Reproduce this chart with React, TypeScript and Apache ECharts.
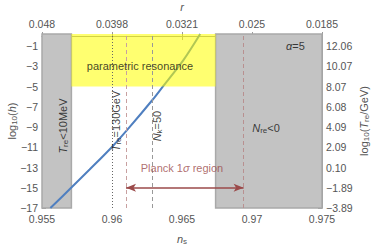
import React, { useEffect, useRef } from "react";
import * as echarts from "echarts";

// ---- data ----
const nsTickLabels = ["0.955", "0.96", "0.965", "0.97", "0.975"];
const rTickLabels = ["0.048", "0.0398", "0.0321", "0.025", "0.0185"];
const logHTicks = [-17, -15, -13, -11, -9, -7, -5, -3, -1];
const logHTickLabels = ["\u221217", "\u221215", "\u221213", "\u221211", "\u22129", "\u22127", "\u22125", "\u22123", "\u22121"];
const logTreTickLabels = ["\u22123.89", "\u22121.89", "0.10", "2.09", "4.09", "6.08", "8.07", "10.07", "12.06"];

const curveNs = [0.9556, 0.9571, 0.9584, 0.96005, 0.9611, 0.9629, 0.9636, 0.9651, 0.9663];
const curveLogH = [-17, -14.98, -13.2, -10.89, -9.26, -6.3, -5.05, -2.38, 0.2];

const nsMin = 0.955;
const nsMax = 0.975;
const logHMin = -17;
const logHMax = 0.2;

const treLowEdge = 0.9571; // T_re < 10 MeV excluded region upper edge
const nreEdge = 0.9674; // N_re < 0 region lower edge
const resonanceLogH = -5; // parametric resonance lower bound
const tre130 = 0.96; // T_re = 130 GeV
const nk50 = 0.9629; // N_k = 50
const planckLow = 0.961;
const planckHigh = 0.9694;
const planckArrowY = -15;

const axisGray = "#999999";
const textGray = "#555555";
const FONT = "Liberation Sans";

const sub = (size: number) => ({ fontSize: size, fontFamily: FONT, padding: [5, 0, 0, 0] });

export default function App() {
  const ref = useRef<HTMLDivElement>(null);
  useEffect(() => {
    if (!ref.current) return;
    const chart = echarts.init(ref.current, null, { renderer: "svg" });
    const nsIdx = (v: number) => Math.round((v - nsMin) / 0.005);
    const hIdx = (v: number) => logHTicks.findIndex((t) => Math.abs(t - v) < 1e-6);

    const richBase = (color: string, size: number) => ({
      n: { fontSize: size, fontFamily: FONT, color },
      i: { fontSize: size, fontFamily: FONT, fontStyle: "italic", color },
      s: { ...sub(size - 3), color },
    });

    const textItem = (x: number, y: number, fmt: string, opts: any = {}) => ({
      value: [x, y],
      label: {
        show: true,
        position: "inside",
        formatter: fmt,
        rotate: opts.rotate || 0,
        rich: richBase(opts.color || "#111", opts.size || 11),
      },
    });

    const vline = (x: number, color: string, type: any) => [
      { coord: [x, logHMin], lineStyle: { color, type, width: 1 } },
      { coord: [x, logHMax] },
    ];

    const option: any = {
      animation: false,
      grid: { left: 42, right: 52, top: 34, bottom: 36, outerBoundsMode: "none", containLabel: false },
      xAxis: [
        {
          type: "value",
          position: "bottom",
          min: nsMin,
          max: nsMax,
          interval: 0.005,
          axisLine: { lineStyle: { color: axisGray } },
          axisTick: { inside: true, length: 4, lineStyle: { color: axisGray } },
          splitLine: { show: false },
          axisLabel: {
            color: textGray,
            fontFamily: FONT,
            fontSize: 10.5,
            margin: 5,
            formatter: (v: number) => nsTickLabels[nsIdx(v)] ?? "",
          },
          name: "{i|n}{s|s}",
          nameLocation: "middle",
          nameGap: 24,
          nameMoveOverlap: false,
          nameTextStyle: { rich: richBase(textGray, 11) },
        },
        {
          type: "value",
          position: "top",
          min: nsMin,
          max: nsMax,
          interval: 0.005,
          axisLine: { lineStyle: { color: axisGray } },
          axisTick: { inside: true, length: 4, lineStyle: { color: axisGray } },
          splitLine: { show: false },
          axisLabel: {
            color: textGray,
            fontFamily: FONT,
            fontSize: 10.5,
            margin: 5,
            formatter: (v: number) => rTickLabels[nsIdx(v)] ?? "",
          },
          name: "{i|r}",
          nameLocation: "middle",
          nameGap: 22,
          nameMoveOverlap: false,
          nameTextStyle: { rich: richBase(textGray, 11) },
        },
      ],
      yAxis: [
        {
          type: "value",
          position: "left",
          min: logHMin,
          max: logHMax,
          axisLine: { show: true, lineStyle: { color: axisGray } },
          axisTick: { show: true, inside: true, length: 4, customValues: logHTicks, lineStyle: { color: axisGray } },
          splitLine: { show: false },
          axisLabel: {
            customValues: logHTicks,
            color: textGray,
            fontFamily: FONT,
            fontSize: 10.5,
            margin: 4,
            formatter: (v: number) => logHTickLabels[hIdx(v)] ?? "",
          },
          name: "{n|log}{s|10}{n|(}{i|h}{n|)}",
          nameLocation: "middle",
          nameGap: 24,
          nameRotate: 90,
          nameMoveOverlap: false,
          nameTextStyle: { rich: richBase(textGray, 11) },
        },
        {
          type: "value",
          position: "right",
          min: logHMin,
          max: logHMax,
          axisLine: { show: true, lineStyle: { color: axisGray } },
          axisTick: { show: true, inside: true, length: 4, customValues: logHTicks, lineStyle: { color: axisGray } },
          splitLine: { show: false },
          axisLabel: {
            customValues: logHTicks,
            color: textGray,
            fontFamily: FONT,
            fontSize: 10.5,
            margin: 4,
            formatter: (v: number) => logTreTickLabels[hIdx(v)] ?? "",
          },
          name: "{n|log}{s|10}{n|(}{i|T}{s|re}{n|/GeV)}",
          nameLocation: "middle",
          nameGap: 35,
          nameRotate: 90,
          nameMoveOverlap: false,
          nameTextStyle: { rich: richBase(textGray, 11) },
        },
      ],
      series: [
        {
          type: "line",
          data: [],
          z: 1,
          markArea: {
            silent: true,
            z: 1,
            itemStyle: { color: "#c3c3c3", borderColor: "#a9a9a9", borderWidth: 1.5 },
            data: [
              [{ xAxis: nsMin, yAxis: logHMin }, { xAxis: treLowEdge, yAxis: logHMax }],
              [{ xAxis: nreEdge, yAxis: logHMin }, { xAxis: nsMax, yAxis: logHMax }],
            ],
          },
        },
        {
          type: "line",
          z: 2,
          data: curveNs.map((x, i) => [x, curveLogH[i]]),
          smooth: 0.3,
          showSymbol: false,
          lineStyle: { color: "#4f7fc0", width: 2 },
        },
        {
          type: "line",
          data: [],
          z: 3,
          markArea: {
            silent: true,
            z: 3,
            itemStyle: { color: "rgba(255,255,0,0.56)" },
            data: [[{ xAxis: treLowEdge, yAxis: resonanceLogH }, { xAxis: nreEdge, yAxis: logHMax }]],
          },
        },
        {
          type: "line",
          data: [],
          z: 4,
          markLine: {
            silent: true,
            z: 4,
            precision: 6,
            symbol: "none",
            label: { show: false },
            data: [
              vline(tre130, "#666666", [1, 2]),
              vline(nk50, "#999999", [4, 3]),
              vline(planckLow, "#c8a0a0", [4, 3]),
              vline(planckHigh, "#b89090", [4, 3]),
            ],
          },
        },
        {
          type: "line",
          data: [],
          z: 5,
          markLine: {
            silent: true,
            z: 5,
            precision: 6,
            symbol: ["arrow", "arrow"],
            symbolSize: [6, 10],
            label: { show: false },
            lineStyle: { color: "#9b4a4a", type: "solid", width: 1.5 },
            data: [[{ coord: [planckLow, planckArrowY] }, { coord: [planckHigh, planckArrowY] }]],
          },
        },
        {
          type: "scatter",
          z: 6,
          symbolSize: 0,
          silent: true,
          data: [
            textItem(0.9731, -1, "{i|\u03b1}{n|=5}"),
            textItem(0.962, -3, "{n|parametric resonance}"),
            textItem(0.971, -9.1, "{i|N}{s|re}{n|<0}"),
            textItem(0.965, -13.05, "{n|Planck 1}{i|\u03c3}{n| region}", { color: "#9b4a4a" }),
            textItem(0.95647, -8.9, "{i|T}{s|re}{n|<10MeV}", { rotate: 90 }),
            textItem(0.96025, -8.4, "{i|T}{s|re}{n|=130GeV}", { rotate: 90 }),
            textItem(0.9632, -8.9, "{i|N}{s|k}{n|=50}", { rotate: 90 }),
          ],
        },
      ],
    };
    chart.setOption(option);
    return () => chart.dispose();
  }, []);
  return <div ref={ref} style={{ position: "absolute", left: 0, top: 0, width: 374, height: 244 }} />;
}
